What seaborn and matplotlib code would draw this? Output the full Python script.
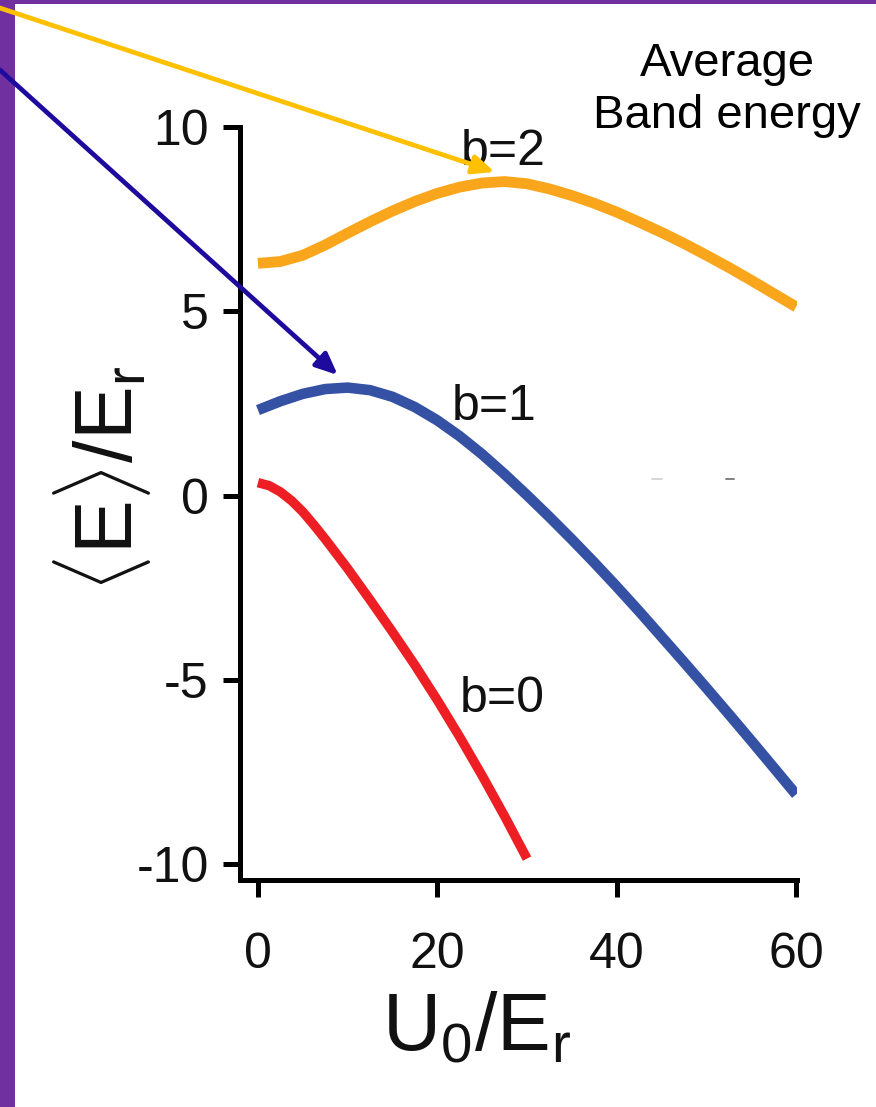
import matplotlib
matplotlib.use("Agg")
import matplotlib.pyplot as plt
import numpy as np
import pandas as pd
import seaborn as sns
from matplotlib.patches import Rectangle
from matplotlib.lines import Line2D

# ---- data: average band energy <E>/E_r versus lattice depth U0/E_r ----
u_b0 = [0, 1.25, 2.5, 3.75, 5, 6.25, 7.5, 10, 12.5, 15, 17.5, 20, 22.5, 25,
        27.5, 30]
e_b0 = [0.35, 0.27, 0.10, -0.14, -0.44, -0.80, -1.18, -1.98, -2.83, -3.70,
        -4.60, -5.55, -6.55, -7.60, -8.70, -9.85]

u_b1 = [0, 2.5, 5, 7.5, 10, 12.5, 15, 17.5, 20, 22.5, 25, 27.5, 30, 32.5, 35,
        37.5, 40, 42.5, 45, 47.5, 50, 52.5, 55, 57.5, 60]
e_b1 = [2.32, 2.56, 2.76, 2.89, 2.93, 2.86, 2.68, 2.40, 2.04, 1.61, 1.12, 0.58,
        0.01, -0.58, -1.19, -1.82, -2.47, -3.14, -3.83, -4.52, -5.22, -5.93,
        -6.65, -7.38, -8.11]

u_b2 = [0, 2.5, 5, 7.5, 10, 12.5, 15, 17.5, 20, 22.5, 25, 27.5, 30, 32.5, 35,
        37.5, 40, 42.5, 45, 47.5, 50, 52.5, 55, 57.5, 60]
e_b2 = [6.30, 6.35, 6.52, 6.80, 7.12, 7.43, 7.72, 7.98, 8.20, 8.37, 8.48, 8.52,
        8.46, 8.32, 8.14, 7.93, 7.69, 7.42, 7.14, 6.84, 6.52, 6.19, 5.84, 5.48,
        5.12]

band_names = ["b=0", "b=1", "b=2"]
band_colors = ["#ED1E24", "#3551A4", "#F9A61D"]
band_widths = [6.8, 7.6, 7.8]
label_u = [27.2, 26.3, 27.3]
label_e = [-5.87, 2.05, 8.97]

x_ticks = [0, 20, 40, 60]
y_ticks = [-10, -5, 0, 5, 10]
y_tick_labels = ["-10", "-5", "0", "5", "10"]

# arrow targets on the b=2 and b=1 curves
arrow_u = [26.4, 8.9]
arrow_e = [8.78, 3.27]
arrow_colors = ["#FFC000", "#1E0B9E"]

df = pd.concat([
    pd.DataFrame({"U": u_b0, "E": e_b0, "band": band_names[0]}),
    pd.DataFrame({"U": u_b1, "E": e_b1, "band": band_names[1]}),
    pd.DataFrame({"U": u_b2, "E": e_b2, "band": band_names[2]}),
], ignore_index=True)

sns.set_theme(style="ticks")
plt.rcParams["font.family"] = ["Liberation Sans", "DejaVu Sans"]
plt.rcParams["mathtext.fontset"] = "custom"
plt.rcParams["mathtext.rm"] = "Liberation Sans"
plt.rcParams["mathtext.it"] = "Liberation Sans:italic"
plt.rcParams["mathtext.bf"] = "Liberation Sans:bold"
plt.rcParams["axes.unicode_minus"] = False

W, H = 876, 1107
fig = plt.figure(figsize=(W / 100, H / 100), dpi=100)
fig.patch.set_facecolor("white")
ax = fig.add_axes([240 / W, 1 - 880 / H, (797 - 240) / W, (880 - 127) / H])
ax.set_facecolor("white")

sns.lineplot(data=df, x="U", y="E", hue="band", hue_order=band_names,
             palette=band_colors, linewidth=7, legend=False, sort=False,
             ax=ax, estimator=None)
for ln, lw in zip(ax.lines, band_widths):
    ln.set_solid_capstyle("butt")
    ln.set_solid_joinstyle("round")
    ln.set_linewidth(lw)

ax.set_xlim(-2.0, 60.1)
ax.set_ylim(-10.43, 10)
ax.set_xticks(x_ticks)
ax.set_xticklabels([str(v) for v in x_ticks])
ax.set_yticks(y_ticks)
ax.set_yticklabels(y_tick_labels)

sns.despine(ax=ax)
for side in ("left", "bottom"):
    ax.spines[side].set_linewidth(3.6)
    ax.spines[side].set_color("black")
ax.tick_params(axis="both", direction="out", length=12.5, width=3.6,
               color="black", labelsize=36, labelcolor="#111111")
ax.tick_params(axis="x", pad=25)
ax.tick_params(axis="y", pad=10)

ax.set_xlabel(r"$\mathrm{U_0/E_r}$", fontsize=58, color="#111111")
ax.set_ylabel(r"$\langle\mathrm{E}\rangle/\mathrm{E_r}$", fontsize=58,
              color="#111111")
ax.xaxis.set_label_coords(0.424, -0.148)
ax.yaxis.set_label_coords(-0.157, 0.533)

for name, uu, ee in zip(band_names, label_u, label_e):
    ax.text(uu, ee, name, fontsize=36, ha="center", va="baseline",
            color="#111111", zorder=5)

# pointers from the top-left corner to the band maxima
starts = [(0, H - 8), (0, H - 70)]
for (sx, sy), tu, te, col in zip(starts, arrow_u, arrow_e, arrow_colors):
    ax.annotate("", xy=(tu, te), xycoords="data",
                xytext=(sx, sy), textcoords="figure pixels",
                arrowprops=dict(arrowstyle="-|>,head_length=0.5,head_width=0.22",
                                color=col, lw=3.4, mutation_scale=26,
                                shrinkA=0, shrinkB=0),
                annotation_clip=False, zorder=10)

fig.text(727 / W, 1 - 90 / H, "Average\nBand energy", fontsize=34,
         ha="center", va="center", linespacing=1.22, color="black")

# slide frame
purple = "#7030A0"
fig.add_artist(Rectangle((0, 0), 15 / W, 1, transform=fig.transFigure,
                         facecolor=purple, edgecolor="none", zorder=-1))
fig.add_artist(Rectangle((0, 1 - 4 / H), 1, 4 / H, transform=fig.transFigure,
                         facecolor=purple, edgecolor="none", zorder=-1))

# faint stray strokes
fig.add_artist(Line2D([652 / W, 662 / W], [1 - 479 / H] * 2,
                      transform=fig.transFigure, color="#cfcfcf", lw=1.2))
fig.add_artist(Line2D([726 / W, 734 / W], [1 - 479 / H] * 2,
                      transform=fig.transFigure, color="#808080", lw=1.4))

fig.savefig("out.png", dpi=100, facecolor="white")
